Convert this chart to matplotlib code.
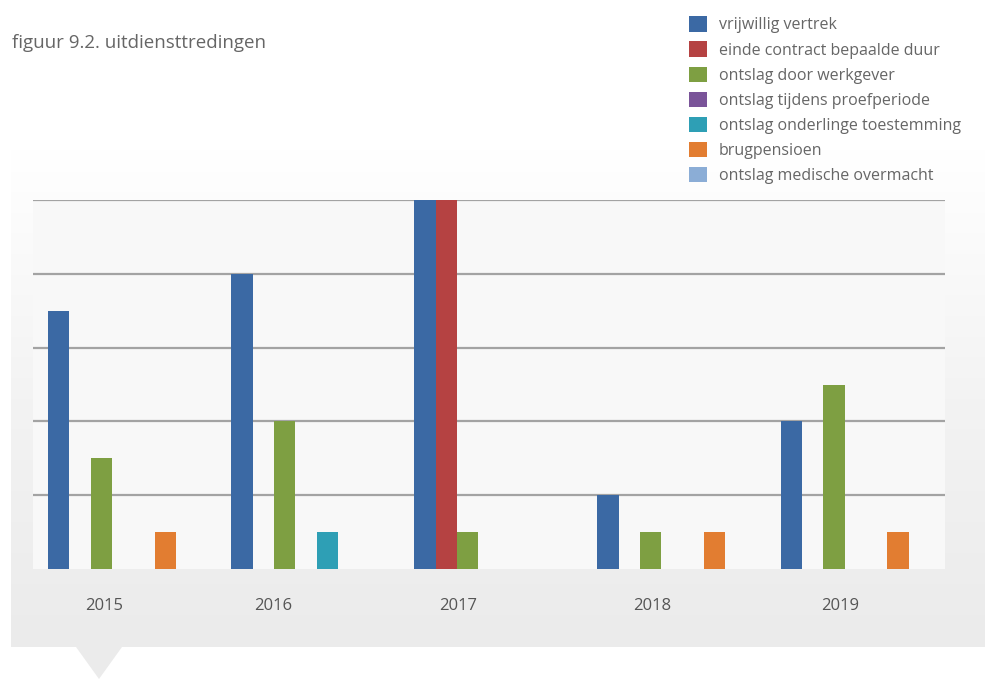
import numpy as np
import matplotlib
matplotlib.use("Agg")
import matplotlib.pyplot as plt
from matplotlib.patches import Polygon

plt.rcParams["font.family"] = ["Open Sans", "DejaVu Sans"]

years = ["2015", "2016", "2017", "2018", "2019"]
series_names = [
    "vrijwillig vertrek",
    "einde contract bepaalde duur",
    "ontslag door werkgever",
    "ontslag tijdens proefperiode",
    "ontslag onderlinge toestemming",
    "brugpensioen",
    "ontslag medische overmacht",
]
vrijwillig_vertrek = [7, 8, 10, 2, 4]
einde_contract = [0, 0, 10, 0, 0]
ontslag_werkgever = [3, 4, 1, 1, 5]
ontslag_proefperiode = [0, 0, 0, 0, 0]
ontslag_onderling = [0, 1, 0, 0, 0]
brugpensioen = [1, 0, 0, 1, 1]
ontslag_medisch = [0, 0, 0, 0, 0]

values = [vrijwillig_vertrek, einde_contract, ontslag_werkgever,
          ontslag_proefperiode, ontslag_onderling, brugpensioen, ontslag_medisch]
colors = ["#3b69a4", "#b54242", "#7e9f42", "#7a5499", "#2e9fb5", "#e27d31", "#8badd6"]

# the year labels in the original sit a bit left of the bar groups
label_shift = [-0.10, -0.18, -0.17, -0.11, -0.08]

W, H = 985, 679
fig = plt.figure(figsize=(W / 100, H / 100), dpi=100)
fig.patch.set_facecolor("white")

# grey panel with soft gradient + the little pointer at the bottom
bg = fig.add_axes([0, 0, 1, 1], zorder=0)
bg.set_xlim(0, W)
bg.set_ylim(H, 0)
bg.axis("off")
grad = np.linspace(0, 1, 256).reshape(-1, 1)
bg.imshow(grad, extent=[11, W, 647, 150], cmap=matplotlib.colors.LinearSegmentedColormap.from_list(
    "panel", ["#ffffff", "#f3f3f3", "#ebebeb"]), aspect="auto", interpolation="bicubic")
bg.add_patch(Polygon([[76, 647], [122, 647], [99, 679]], closed=True,
                     facecolor="#ebebeb", edgecolor="none"))

ax = fig.add_axes([33 / W, (H - 569) / H, (945 - 33) / W, (569 - 200) / H], zorder=1)
ax.set_facecolor("#f8f8f8")

x = np.arange(len(years))
w = 0.1165
for j, (name, vals) in enumerate(zip(series_names, values)):
    ax.bar(x + (j - 3) * w, vals, width=w, color=colors[j], label=name, zorder=3)

ax.set_xlim(-0.49, 4.49)
ax.set_ylim(0, 10)
ax.set_yticks([2, 4, 6, 8, 10])
ax.yaxis.grid(True, color="#a3a3a3", linewidth=1.6, zorder=0)
ax.tick_params(axis="y", left=False, labelleft=False)
ax.set_xticks(x + np.array(label_shift))
ax.set_xticklabels(years, fontsize=12, color="#555555")
ax.tick_params(axis="x", length=0, pad=21)
for s in ax.spines.values():
    s.set_visible(False)

fig.text(12 / W, 1 - 43 / H, "figuur 9.2. uitdiensttredingen", fontsize=13.5,
         color="#666666", va="center", ha="left")

fig.legend(loc="upper left", bbox_to_anchor=(683 / W, 1 - 10 / H), frameon=False,
           fontsize=11.5, labelcolor="#666666", handlelength=1.1, handleheight=1.1,
           handletextpad=0.75, labelspacing=0.5, borderaxespad=0)

fig.savefig("out.png", dpi=100)
